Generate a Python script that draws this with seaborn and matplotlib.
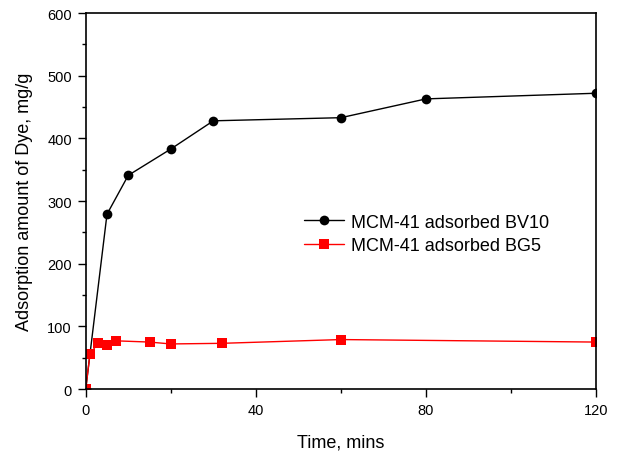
import matplotlib
matplotlib.use("Agg")
import matplotlib.pyplot as plt
import seaborn as sns
import pandas as pd
from matplotlib.ticker import MultipleLocator

sns.set_style("white")
plt.rcParams['font.family'] = ['Liberation Sans', 'DejaVu Sans']
plt.rcParams['text.color'] = 'black'
plt.rcParams['axes.labelcolor'] = 'black'
plt.rcParams['xtick.color'] = 'black'
plt.rcParams['ytick.color'] = 'black'

bv10_time = [0, 5, 10, 20, 30, 60, 80, 120]
bv10_amount = [0, 279, 341, 383, 428, 433, 463, 472]
bg5_time = [0, 1, 3, 5, 7, 15, 20, 32, 60, 120]
bg5_amount = [0, 56, 74, 70, 77, 75, 72, 73, 79, 75]
labels = ["MCM-41 adsorbed BV10", "MCM-41 adsorbed BG5"]

df1 = pd.DataFrame({"t": bv10_time, "q": bv10_amount, "s": labels[0]})
df2 = pd.DataFrame({"t": bg5_time, "q": bg5_amount, "s": labels[1]})

fig = plt.figure(figsize=(6.23, 4.52), dpi=100)
ax = fig.add_axes([0.1376, 0.137, 0.957 - 0.1376, 0.969 - 0.137])

sns.lineplot(data=df1, x="t", y="q", ax=ax, color="black", marker="o",
             markersize=7, markeredgewidth=0, linewidth=1, label=labels[0], estimator=None)
sns.lineplot(data=df2, x="t", y="q", ax=ax, color="#ff0000", marker="s",
             markersize=6.5, markeredgewidth=0, linewidth=1, label=labels[1], estimator=None)

ax.set_xlim(0, 120)
ax.set_ylim(0, 600)
ax.xaxis.set_major_locator(MultipleLocator(40))
ax.xaxis.set_minor_locator(MultipleLocator(20))
ax.yaxis.set_major_locator(MultipleLocator(100))
ax.yaxis.set_minor_locator(MultipleLocator(50))
ax.tick_params(which="major", direction="out", length=6, width=1, labelsize=10.5,
               bottom=True, left=True, top=False, right=False, colors="black", pad=4)
ax.tick_params(which="minor", direction="out", length=3, width=1,
               bottom=True, left=True, top=False, right=False, colors="black")
for sp in ax.spines.values():
    sp.set_color("black")
    sp.set_linewidth(1.2)

ax.set_xlabel("Time, mins", fontsize=13, labelpad=12, color="black")
ax.set_ylabel("Adsorption amount of Dye, mg/g", fontsize=13, labelpad=10, color="black")

leg = ax.legend(loc="upper left", bbox_to_anchor=(0.396, 0.51), frameon=False,
                fontsize=13, handlelength=2.2, handletextpad=0.4, labelspacing=0.35)
for t in leg.get_texts():
    t.set_color("black")

fig.savefig("out.png", dpi=100)
